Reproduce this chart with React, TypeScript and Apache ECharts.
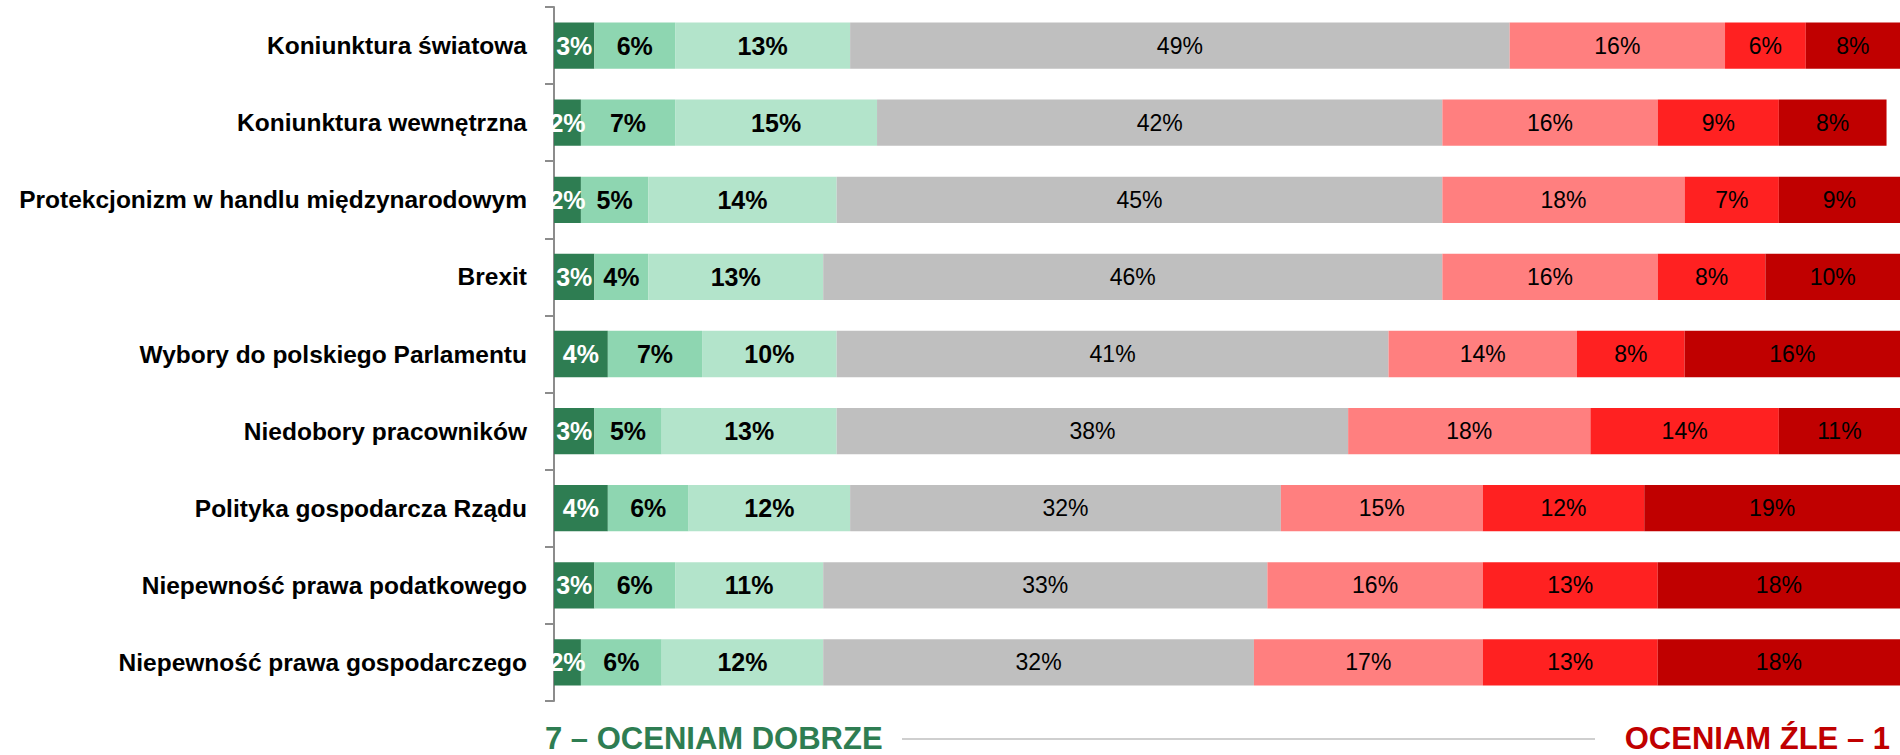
import React, { useEffect, useRef } from "react";
import * as echarts from "echarts";

const categories = [
  "Koniunktura światowa",
  "Koniunktura wewnętrzna",
  "Protekcjonizm w handlu międzynarodowym",
  "Brexit",
  "Wybory do polskiego Parlamentu",
  "Niedobory pracowników",
  "Polityka gospodarcza Rządu",
  "Niepewność prawa podatkowego",
  "Niepewność prawa gospodarczego",
];

const level7 = [3, 2, 2, 3, 4, 3, 4, 3, 2];
const level6 = [6, 7, 5, 4, 7, 5, 6, 6, 6];
const level5 = [13, 15, 14, 13, 10, 13, 12, 11, 12];
const level4 = [49, 42, 45, 46, 41, 38, 32, 33, 32];
const level3 = [16, 16, 18, 16, 14, 18, 15, 16, 17];
const level2 = [6, 9, 7, 8, 8, 14, 12, 13, 13];
const level1 = [8, 8, 9, 10, 16, 11, 19, 18, 18];

const seriesNames = ["7", "6", "5", "4", "3", "2", "1"];
const seriesData = [level7, level6, level5, level4, level3, level2, level1];
const seriesColors = ["#2E7D52", "#8ED6B1", "#B3E4CB", "#BFBFBF", "#FF7F7F", "#FF2121", "#C00000"];
const labelColors = ["#FFFFFF", "#000000", "#000000", "#000000", "#000000", "#000000", "#000000"];
const labelBold = [true, true, true, false, false, false, false];

const leftTitle = "7 – OCENIAM DOBRZE";
const rightTitle = "OCENIAM ŹLE – 1";

const FONT = "'Liberation Sans', Arial, sans-serif";

export default function App() {
  const ref = useRef<HTMLDivElement>(null);
  useEffect(() => {
    if (!ref.current) return;
    const chart = echarts.init(ref.current, undefined, { renderer: "svg" });
    chart.setOption({
      animation: false,
      grid: { left: 554, right: 0, top: 7, bottom: 54, containLabel: false },
      xAxis: {
        type: "value",
        min: 0,
        max: 100,
        show: false,
      },
      yAxis: {
        type: "category",
        inverse: true,
        data: categories,
        axisLine: { show: true, lineStyle: { color: "#8C8C8C", width: 2 } },
        axisTick: { show: true, length: 9, lineStyle: { color: "#8C8C8C", width: 2 } },
        axisLabel: {
          margin: 27,
          color: "#000",
          fontWeight: "bold",
          fontSize: 24.5,
          fontFamily: FONT,
        },
      },
      series: seriesNames.map((name, i) => ({
        name,
        type: "bar",
        stack: "total",
        barWidth: "60%",
        clip: true,
        data: seriesData[i],
        itemStyle: { color: seriesColors[i] },
        label: {
          show: true,
          position: "inside",
          formatter: (p: any) => p.value + "%",
          color: labelColors[i],
          fontWeight: labelBold[i] ? "bold" : "normal",
          fontSize: labelBold[i] ? 25 : 23,
          fontFamily: FONT,
        },
      })),
      graphic: [
        {
          type: "text",
          x: 545,
          y: 738,
          style: {
            text: leftTitle,
            fill: "#2E7D52",
            font: "bold 31px " + FONT,
            align: "left",
            verticalAlign: "middle",
          },
        },
        {
          type: "line",
          shape: { x1: 902, y1: 739, x2: 1595, y2: 739 },
          style: { stroke: "#BFBFBF", lineWidth: 1.5 },
        },
        {
          type: "text",
          x: 1890,
          y: 738,
          style: {
            text: rightTitle,
            fill: "#C00000",
            font: "bold 31px " + FONT,
            align: "right",
            verticalAlign: "middle",
          },
        },
      ],
    });
    return () => chart.dispose();
  }, []);
  return (
    <div
      ref={ref}
      style={{ position: "absolute", left: 0, top: 0, width: 1900, height: 755 }}
    />
  );
}
